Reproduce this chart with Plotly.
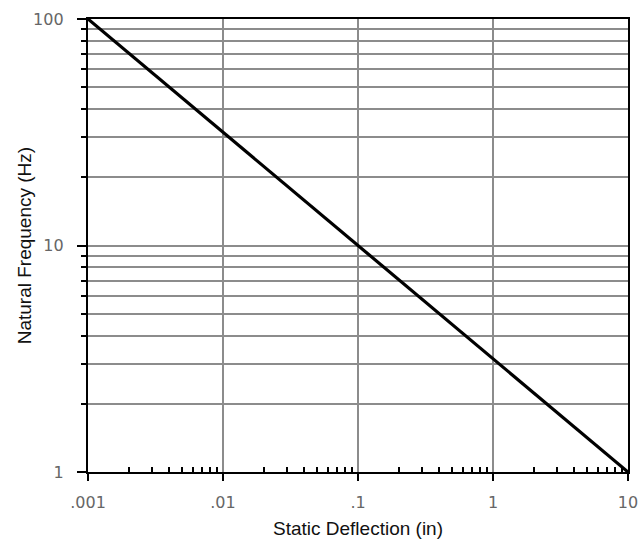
import plotly.graph_objects as go

# Data
deflection_in = [0.001, 10]
natural_freq_hz = [100, 1]

x_tick_vals = [0.001, 0.01, 0.1, 1, 10]
x_tick_text = [".001", ".01", ".1", "1", "10"]
y_tick_vals = [1, 10, 100]
y_tick_text = ["1", "10", "100"]
x_minor_vals = [m * 10 ** e for e in (-3, -2, -1, 0) for m in range(2, 10)]
y_minor_vals = [m * 10 ** e for e in (0, 1) for m in range(2, 10)]
x_title = "Static Deflection (in)"
y_title = "Natural Frequency (Hz)"

fig = go.Figure()
fig.add_trace(go.Scatter(
    x=deflection_in, y=natural_freq_hz, mode="lines",
    line=dict(color="black", width=3.2), showlegend=False, hoverinfo="skip"))

grid_color = "#8c8c8c"
tick_font = dict(family="DejaVu Sans", size=16, color="#666666")
title_font = dict(family="Liberation Sans, Arial", size=19, color="#111111")

fig.update_xaxes(
    type="log", range=[-3, 1], automargin=False,
    tickmode="array", tickvals=x_tick_vals, ticktext=x_tick_text,
    ticks="outside", ticklen=7, tickwidth=2, tickcolor="black",
    ticklabelstandoff=8,
    showgrid=True, gridcolor=grid_color, gridwidth=1.5,
    showline=True, linecolor="black", linewidth=2, mirror=True,
    minor=dict(tickmode="array", tickvals=x_minor_vals, ticks="inside",
               ticklen=5, tickwidth=2, tickcolor="black", showgrid=False),
    tickfont=tick_font,
    title=dict(text=x_title, font=title_font, standoff=10),
    zeroline=False,
)
fig.update_yaxes(
    type="log", range=[0, 2], automargin=False,
    tickmode="array", tickvals=y_tick_vals,
    ticktext=[t + "\u00a0\u00a0" for t in y_tick_text],
    ticks="outside", ticklen=9, tickwidth=2, tickcolor="black",
    showgrid=True, gridcolor=grid_color, gridwidth=1.5,
    showline=True, linecolor="black", linewidth=2, mirror=True,
    minor=dict(tickmode="array", tickvals=y_minor_vals, ticks="outside",
               ticklen=5, tickwidth=2, tickcolor="black",
               showgrid=True, gridcolor=grid_color, gridwidth=1.5),
    tickfont=tick_font,
    zeroline=False,
)

fig.add_annotation(
    text=y_title, textangle=-90, font=title_font, showarrow=False,
    xref="paper", yref="paper", x=-0.117, y=0.5,
    xanchor="center", yanchor="middle")

fig.update_layout(
    width=640, height=545,
    margin=dict(l=88, r=12, t=19, b=73),
    paper_bgcolor="white", plot_bgcolor="white",
)

fig.write_html("out.html")
